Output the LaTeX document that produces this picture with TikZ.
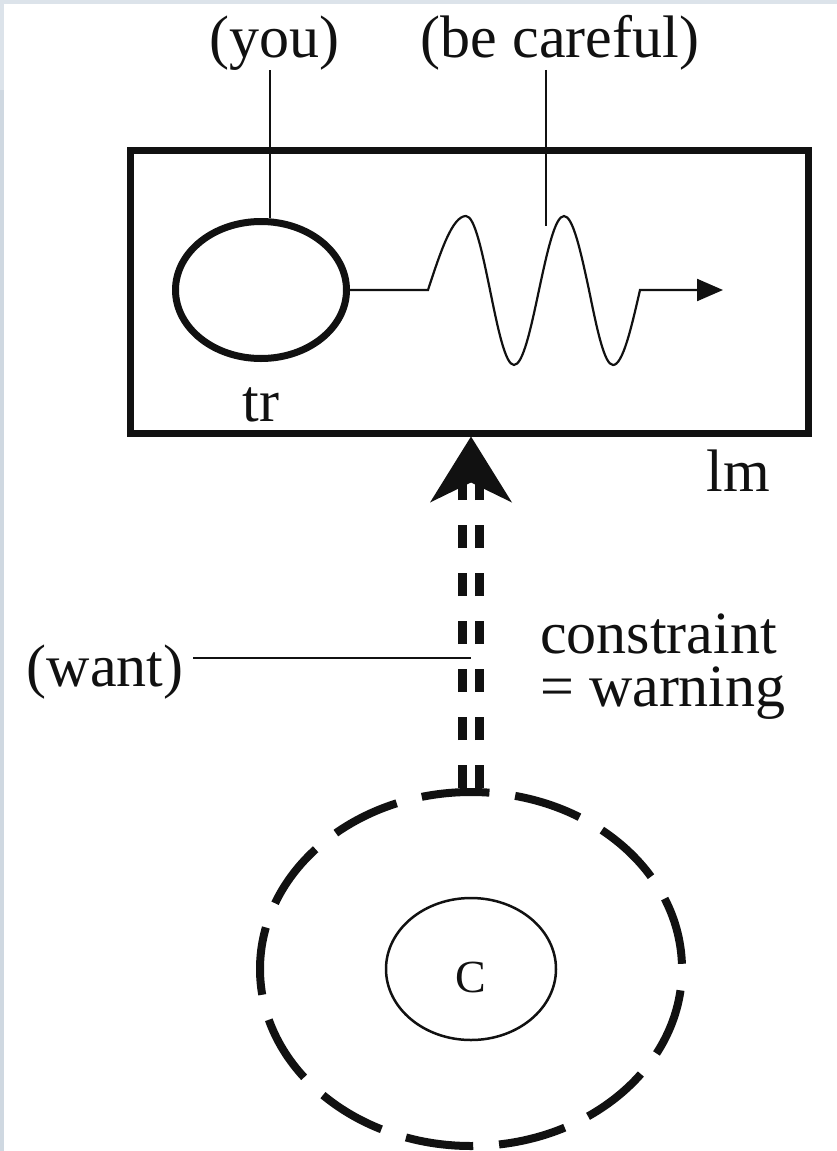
\documentclass[tikz,border=0pt]{standalone}
\usepackage{fontspec}
\setmainfont{Liberation Serif}
\usetikzlibrary{arrows.meta,shapes.geometric}
\definecolor{band}{HTML}{DCE3EA}
\definecolor{bandd}{HTML}{CFD8E1}
\definecolor{ink}{HTML}{111111}
\tikzset{
  lbl/.style={inner sep=0pt, font=\fontsize{60}{62}\selectfont, text=ink},
  leader/.style={line width=1.6pt, draw=ink},
  thickbox/.style={draw=ink, line width=7pt, rectangle},
  thickell/.style={draw=ink, line width=7pt, ellipse},
  thinell/.style={draw=ink, line width=2.5pt, ellipse},
  dashell/.style={draw=ink, line width=8pt, ellipse, dash pattern=on 68pt off 25.9pt, dash phase=88.7pt},
  shaftline/.style={draw=ink, line width=8.5pt, dash pattern=on 23pt off 25pt},
  wave/.style={draw=ink, line width=2.2pt, -{Triangle[length=26pt,width=22pt]}}
}
\begin{document}
\begin{tikzpicture}[x=1pt,y=-1pt]
  \fill[white] (0,0) rectangle (837,1151);
  \useasboundingbox (0,0) rectangle (837,1151);
  % frame artefacts
  \fill[band] (0,0) rectangle (837,4);
  \fill[band] (0,0) rectangle (4,90);
  \fill[bandd] (0,90) rectangle (4,1151);

  % main box
  \node[thickbox, minimum width=678pt, minimum height=283pt] (box) at (469,291.5) {};
  \node[lbl, anchor=base] (lm) at (738,491) {lm};

  % transmitter
  \node[thickell, minimum width=171pt, minimum height=137pt, inner sep=0pt] (tr) at (261,290) {};
  \node[lbl, anchor=base] (trl) at (261,421) {tr};

  % labels on top
  \node[lbl, anchor=base] (you) at (274,57) {(you)};
  \node[lbl, anchor=base] (bc) at (560,57) {(be careful)};
  \coordinate (bcend) at (546,226);
  \draw[leader] (you.south -| tr.83) -- (tr.83);
  \draw[leader] (bc.south -| bcend) -- (bcend);

  % wave
  \coordinate (wend) at (723,290);
  \draw[wave] (tr.east) -- (428,290) sin (466,216) cos (490,290) sin (514,365)
     cos (539,290) sin (564,216) cos (589,290) sin (613,365) cos (640,290) -- (wend);

  % C circles
  \node[dashell, minimum width=422pt, minimum height=354pt, inner sep=0pt] (outer) at (471,969) {};
  \node[thinell, minimum width=170pt, minimum height=142pt, inner sep=0pt] (inner) at (471,969) {};
  \node[lbl, font=\fontsize{46}{48}\selectfont] (cl) at (471,977) {C};

  % double dashed arrow
  \coordinate (tip) at (outer.north |- box.south);
  \coordinate (notch) at ([yshift=-46pt]tip);
  \coordinate (sl0) at ([xshift=-8.5pt]outer.north);
  \coordinate (sr0) at ([xshift=8.5pt]outer.north);
  \coordinate (sl1) at (sl0 |- notch);
  \coordinate (sr1) at (sr0 |- notch);
  \draw[shaftline] (sl0) -- (sl1);
  \draw[shaftline] (sr0) -- (sr1);
  \fill[ink] (tip) -- ++(-41,66) -- ++(41,-20) -- ++(41,20) -- cycle;

  % want label
  \node[lbl, anchor=base] (want) at (105,686) {(want)};
  \coordinate (wl) at ([xshift=10pt,yshift=28pt]want.base east);
  \draw[leader] (wl) -- (wl -| tip);

  % constraint label (base anchor = last line)
  \node[lbl, anchor=base west, align=left, font=\fontsize{60}{53}\selectfont] (cons) at (540,706) {constraint\\= warning};
\end{tikzpicture}
\end{document}
